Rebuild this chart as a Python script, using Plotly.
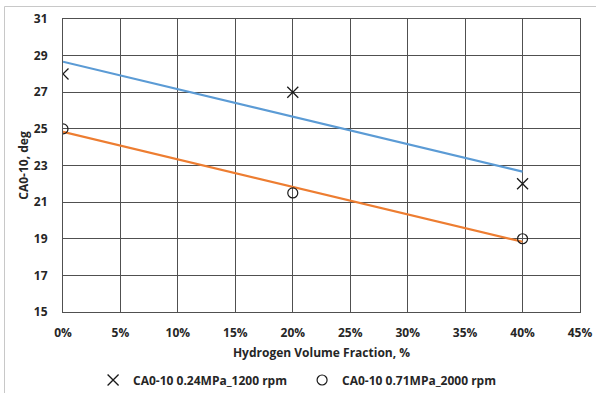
import numpy as np
import plotly.graph_objects as go

h2_frac = [0, 20, 40]  # %
ca010_024 = [28, 27, 22]
ca010_071 = [25, 21.5, 19]
names = ["CA0-10 0.24MPa_1200 rpm", "CA0-10 0.71MPa_2000 rpm"]
x_ticks = list(range(0, 50, 5))
y_ticks = list(range(15, 33, 2))

fig = go.Figure()

# trendlines (linear least squares fits, as in the source)
for ys, col in [(ca010_024, "#5B9BD5"), (ca010_071, "#ED7D31")]:
    k, b = np.polyfit(h2_frac, ys, 1)
    xs = [min(h2_frac), max(h2_frac)]
    fig.add_trace(go.Scatter(x=xs, y=[k * v + b for v in xs], mode="lines",
                             line=dict(color=col, width=2.2), showlegend=False,
                             hoverinfo="skip"))

fig.add_trace(go.Scatter(x=h2_frac, y=ca010_024, mode="markers", name=names[0],
                         marker=dict(symbol="x-thin-open", size=11, color="#1a1a1a",
                                     line=dict(color="#1a1a1a", width=1.3))))
fig.add_trace(go.Scatter(x=h2_frac, y=ca010_071, mode="markers", name=names[1],
                         marker=dict(symbol="circle-open", size=10, color="#1a1a1a",
                                     line=dict(color="#1a1a1a", width=1.2))))

W, H = 597, 394
L, R, T, B = 63, 17, 19, 82
pw, ph = W - L - R, H - T - B
fx = lambda px: (px - L) / pw
fy = lambda py: (H - B - py) / ph

fig.update_layout(
    width=W, height=H,
    margin=dict(l=L, r=R, t=T, b=B, autoexpand=False),
    paper_bgcolor="white", plot_bgcolor="white",
    font=dict(family="Open Sans", size=12, color="#262626"),
    showlegend=True,
    legend=dict(orientation="h", xref="container", yref="container",
                x=0.506, xanchor="center", y=1 - 380 / H, yanchor="middle",
                font=dict(size=12, color="#262626", weight="bold"),
                itemwidth=30, entrywidth=164, entrywidthmode="pixels",
                tracegroupgap=0),
    shapes=[
        dict(type="line", xref="paper", yref="paper", x0=fx(4.5), x1=fx(4.5),
             y0=fy(6.5), y1=fy(393), line=dict(color="#c8c8c8", width=1), layer="above"),
        dict(type="line", xref="paper", yref="paper", x0=fx(4.5), x1=fx(596),
             y0=fy(6.5), y1=fy(6.5), line=dict(color="#c8c8c8", width=1), layer="above"),
    ],
)
fig.update_xaxes(range=[0, 45], tickvals=x_ticks,
                 ticktext=[f"{v}%" for v in x_ticks],
                 showgrid=True, gridcolor="#505050", gridwidth=1,
                 showline=True, linecolor="#505050", mirror=True, zeroline=False,
                 ticks="", ticklabelstandoff=10, tickfont=dict(size=12, weight="bold"),
                 title=dict(text="Hydrogen Volume Fraction, %",
                            font=dict(size=12, weight="bold"), standoff=8))
fig.update_yaxes(range=[15, 31], tickvals=y_ticks,
                 showgrid=True, gridcolor="#505050", gridwidth=1,
                 showline=True, linecolor="#505050", mirror=True, zeroline=False,
                 ticks="", ticklabelstandoff=12, tickfont=dict(size=12, weight="bold"),
                 title=dict(text="CA0-10, deg",
                            font=dict(size=12, weight="bold"), standoff=2))

fig.write_html("out.html")
